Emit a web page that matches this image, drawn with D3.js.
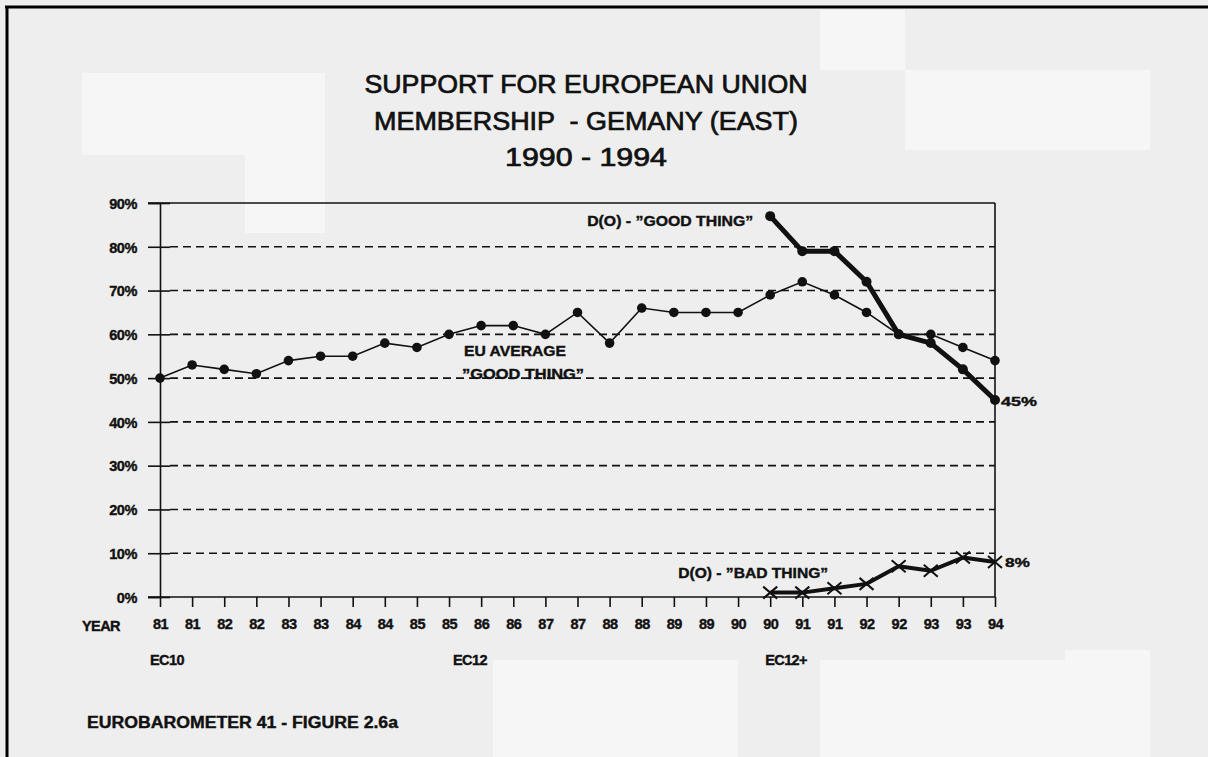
<!DOCTYPE html>
<html>
<head>
<meta charset="utf-8">
<script src="https://cdn.jsdelivr.net/npm/d3@7"></script>
<style>
  body { margin: 0; background: #eeeeee; }
  svg { display: block; }
  text { font-family: "Liberation Sans", Arial, sans-serif; fill: #111; }
</style>
</head>
<body>
<script>
// Survey waves (two per year, last one spring 94)
var waves = ["81","81","82","82","83","83","84","84","85","85","86","86","87","87",
             "88","88","89","89","90","90","91","91","92","92","93","93","94"];

// EU average "good thing" (%)
var euAverage = [50,53,52,51,54,55,55,58,57,60,62,62,60,65,58,66,65,65,65,69,72,69,65,60,60,57,54];

// Germany (East) "good thing" / "bad thing", from autumn 1990
var eastGood = [87,79,79,72,60,58,52,45];
var eastBad  = [1,1,2,3,7,6,9,8];
var eastStart = 19;

var yTicks = [0,10,20,30,40,50,60,70,80,90];

var W = 1208, H = 757;
var margin = { left: 160, right: 213, top: 203, bottom: 160 }
    , width = W - margin.left - margin.right
    , height = H - margin.top - margin.bottom;

var svg = d3.select("body").append("svg")
    .attr("width", W)
    .attr("height", H);

// lighter scanner patches on the page
[[82, 73, 163, 82], [245, 73, 80, 160], [820, 10, 85, 60], [905, 70, 245, 80],
 [493, 660, 245, 97], [820, 660, 245, 97], [1065, 650, 85, 107]].forEach(function (r) {
    svg.append("rect").attr("x", r[0]).attr("y", r[1]).attr("width", r[2]).attr("height", r[3])
        .attr("fill", "#f6f6f6");
});

// frame of the scanned page
svg.append("line").attr("x1", 5).attr("x2", W).attr("y1", 7).attr("y2", 7)
    .attr("stroke", "#000").attr("stroke-width", 3);
svg.append("line").attr("x1", 7).attr("x2", 7).attr("y1", 6).attr("y2", H)
    .attr("stroke", "#000").attr("stroke-width", 3);

// title
var title = ["SUPPORT FOR EUROPEAN UNION", "MEMBERSHIP  - GEMANY (EAST)", "1990 - 1994"];
var titleY = [93, 130, 166];
var titleW = [443, 424, 162];
title.forEach(function (t, i) {
    svg.append("text")
        .attr("x", 586).attr("y", titleY[i])
        .attr("text-anchor", "middle")
        .attr("font-size", 25)
        .attr("stroke", "#111").attr("stroke-width", 0.7)
        .attr("textLength", titleW[i])
        .attr("lengthAdjust", "spacingAndGlyphs")
        .style("white-space", "pre")
        .text(t);
});

var g = svg.append("g")
    .attr("transform", "translate(" + margin.left + "," + margin.top + ")");

var x = d3.scalePoint()
    .domain(d3.range(waves.length))
    .range([0, width]);

var y = d3.scaleLinear()
    .domain([0, 90])
    .range([height, 0]);

// dashed grid
g.selectAll(".grid")
    .data(yTicks.filter(function (d) { return d > 0 && d < 90; }))
    .enter().append("line")
    .attr("x1", 10).attr("x2", width)
    .attr("y1", function (d) { return y(d); })
    .attr("y2", function (d) { return y(d); })
    .attr("stroke", "#111")
    .attr("stroke-width", 1.6)
    .attr("stroke-dasharray", "8,5");

// box: top and right border
g.append("line").attr("x1", -12).attr("x2", width).attr("y1", 0).attr("y2", 0)
    .attr("stroke", "#111").attr("stroke-width", 1.6);
g.append("line").attr("x1", width).attr("x2", width).attr("y1", 0).attr("y2", height)
    .attr("stroke", "#111").attr("stroke-width", 1.6);

// y axis
var yAxis = g.append("g")
    .call(d3.axisLeft(y).tickValues(yTicks).tickSize(12)
        .tickFormat(function (d) { return d + "%"; }));
yAxis.select(".domain").attr("stroke", "#111").attr("stroke-width", 1.6);
yAxis.selectAll(".tick line").attr("stroke", "#111").attr("stroke-width", 1.6).attr("x2", 10).attr("x1", -12);
yAxis.selectAll(".tick text")
    .attr("x", -23).attr("dy", "0.36em")
    .attr("font-size", 14.5).attr("font-weight", "bold")
    .attr("stroke", "#111").attr("stroke-width", 0.4)
    .attr("letter-spacing", "-0.4")
    .attr("fill", "#111");

// x axis
var xAxis = g.append("g")
    .attr("transform", "translate(0," + height + ")")
    .call(d3.axisBottom(x).tickSize(10).tickFormat(function (i) { return waves[i]; }));
xAxis.select(".domain").remove();
g.append("line").attr("x1", -12).attr("x2", width).attr("y1", height).attr("y2", height)
    .attr("stroke", "#111").attr("stroke-width", 1.6);
xAxis.selectAll(".tick line").attr("stroke", "#111").attr("stroke-width", 1.6);
xAxis.selectAll(".tick text")
    .attr("y", 22).attr("dy", "0.71em")
    .attr("font-size", 14.5).attr("font-weight", "bold")
    .attr("stroke", "#111").attr("stroke-width", 0.4)
    .attr("letter-spacing", "-0.5")
    .attr("fill", "#111");

g.append("text").attr("x", -78).attr("y", height + 34)
    .attr("font-size", 14.5).attr("font-weight", "bold").attr("letter-spacing", "-0.6")
    .attr("stroke", "#111").attr("stroke-width", 0.4)
    .text("YEAR");

// group labels under the axis
var groups = [{ t: "EC10", i: 0 }, { t: "EC12", i: 9 }, { t: "EC12+", i: 19 }];
var groupShift = [-10, 4, -5];
groups.forEach(function (d, k) {
    g.append("text")
        .attr("x", x(d.i) + groupShift[k]).attr("y", height + 68)
        .attr("font-size", 14.5).attr("font-weight", "bold").attr("letter-spacing", "-0.6")
        .attr("stroke", "#111").attr("stroke-width", 0.4)
        .text(d.t);
});

// EU average
var line = d3.line()
    .x(function (d, i) { return x(i); })
    .y(function (d) { return y(d); });

g.append("path")
    .datum(euAverage)
    .attr("fill", "none")
    .attr("stroke", "#111")
    .attr("stroke-width", 1.6)
    .attr("d", line);

g.selectAll(".euDot")
    .data(euAverage)
    .enter().append("circle")
    .attr("cx", function (d, i) { return x(i); })
    .attr("cy", function (d) { return y(d); })
    .attr("r", 4.8)
    .attr("fill", "#111");

// East good thing
var lineEast = d3.line()
    .x(function (d, i) { return x(i + eastStart); })
    .y(function (d) { return y(d); });

g.append("path")
    .datum(eastGood)
    .attr("fill", "none")
    .attr("stroke", "#111")
    .attr("stroke-width", 5)
    .attr("stroke-linejoin", "round")
    .attr("d", lineEast);

g.selectAll(".goodDot")
    .data(eastGood)
    .enter().append("circle")
    .attr("cx", function (d, i) { return x(i + eastStart); })
    .attr("cy", function (d) { return y(d); })
    .attr("r", 5)
    .attr("fill", "#111");

// East bad thing
g.append("path")
    .datum(eastBad)
    .attr("fill", "none")
    .attr("stroke", "#111")
    .attr("stroke-width", 4)
    .attr("stroke-linejoin", "round")
    .attr("d", lineEast);

g.selectAll(".badMark")
    .data(eastBad)
    .enter().append("path")
    .attr("transform", function (d, i) { return "translate(" + x(i + eastStart) + "," + y(d) + ")"; })
    .attr("d", "M-7,-6L7,6M-7,6L7,-6")
    .attr("stroke", "#111")
    .attr("stroke-width", 2);

// annotations
function note(t, px, py, size, w) {
    g.append("text")
        .attr("x", px).attr("y", py)
        .attr("font-size", size).attr("font-weight", "bold")
        .attr("stroke", "#111").attr("stroke-width", 0.4)
        .attr("textLength", w).attr("lengthAdjust", "spacingAndGlyphs")
        .text(t);
}
note("D(O) - \u201dGOOD THING\u201d", x(eastStart) - 183, y(eastGood[0]) + 10, 14, 166);
note("EU AVERAGE", x(9) + 15, y(euAverage[9]) + 22, 14, 102);
note("\u201dGOOD THING\u201d", x(9) + 13, y(euAverage[9]) + 45, 14, 122);
note(eastGood[eastGood.length - 1] + "%", width + 6, y(eastGood[eastGood.length - 1]) + 6, 13.5, 36);
note("D(O) - \u201dBAD THING\u201d", x(eastStart) - 92, y(eastBad[4]) + 12, 14, 150);
note(eastBad[eastBad.length - 1] + "%", width + 10, y(eastBad[eastBad.length - 1]) + 5, 13.5, 25);

// footer
svg.append("text").attr("x", 87).attr("y", 728)
    .attr("font-size", 16).attr("font-weight", "bold")
    .attr("stroke", "#111").attr("stroke-width", 0.4)
    .attr("textLength", 311).attr("lengthAdjust", "spacingAndGlyphs")
    .text("EUROBAROMETER 41 - FIGURE 2.6a");
</script>
</body>
</html>
